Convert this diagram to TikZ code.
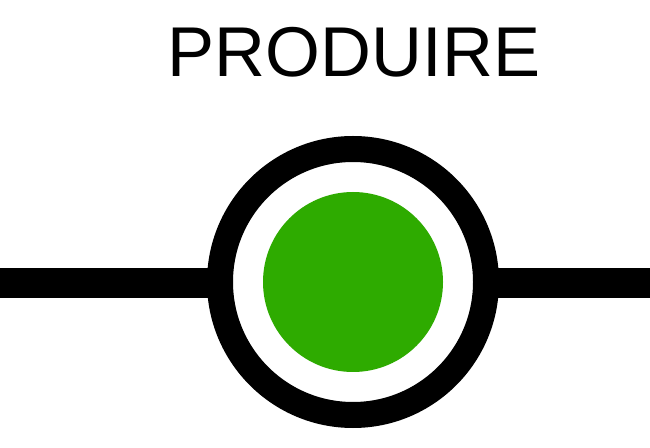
\documentclass[tikz,border=0pt]{standalone}
\usepackage{fontspec}
\setmainfont{Liberation Sans}
\definecolor{prodgreen}{HTML}{2EAB00}
\begin{document}
\begin{tikzpicture}[x=1pt,y=1pt,
  ringstyle/.style={draw=black,line width=26pt,fill=white},
  wire/.style={draw=black,line width=30pt},
  titletext/.style={font=\fontsize{70.5}{78}\selectfont,inner sep=0pt,anchor=base}]
\useasboundingbox (0,0) rectangle (650,447);
\coordinate (c) at (353,165);
\coordinate (wl) at (0,164);
\coordinate (wr) at (650,164);
\draw[wire] (wl) -- (wr);
\draw[ringstyle] (c) circle[radius=133];
\fill[prodgreen] (c) circle[radius=90];
\node[titletext] (title) at (354,370) {PRODUIRE};
\end{tikzpicture}
\end{document}
